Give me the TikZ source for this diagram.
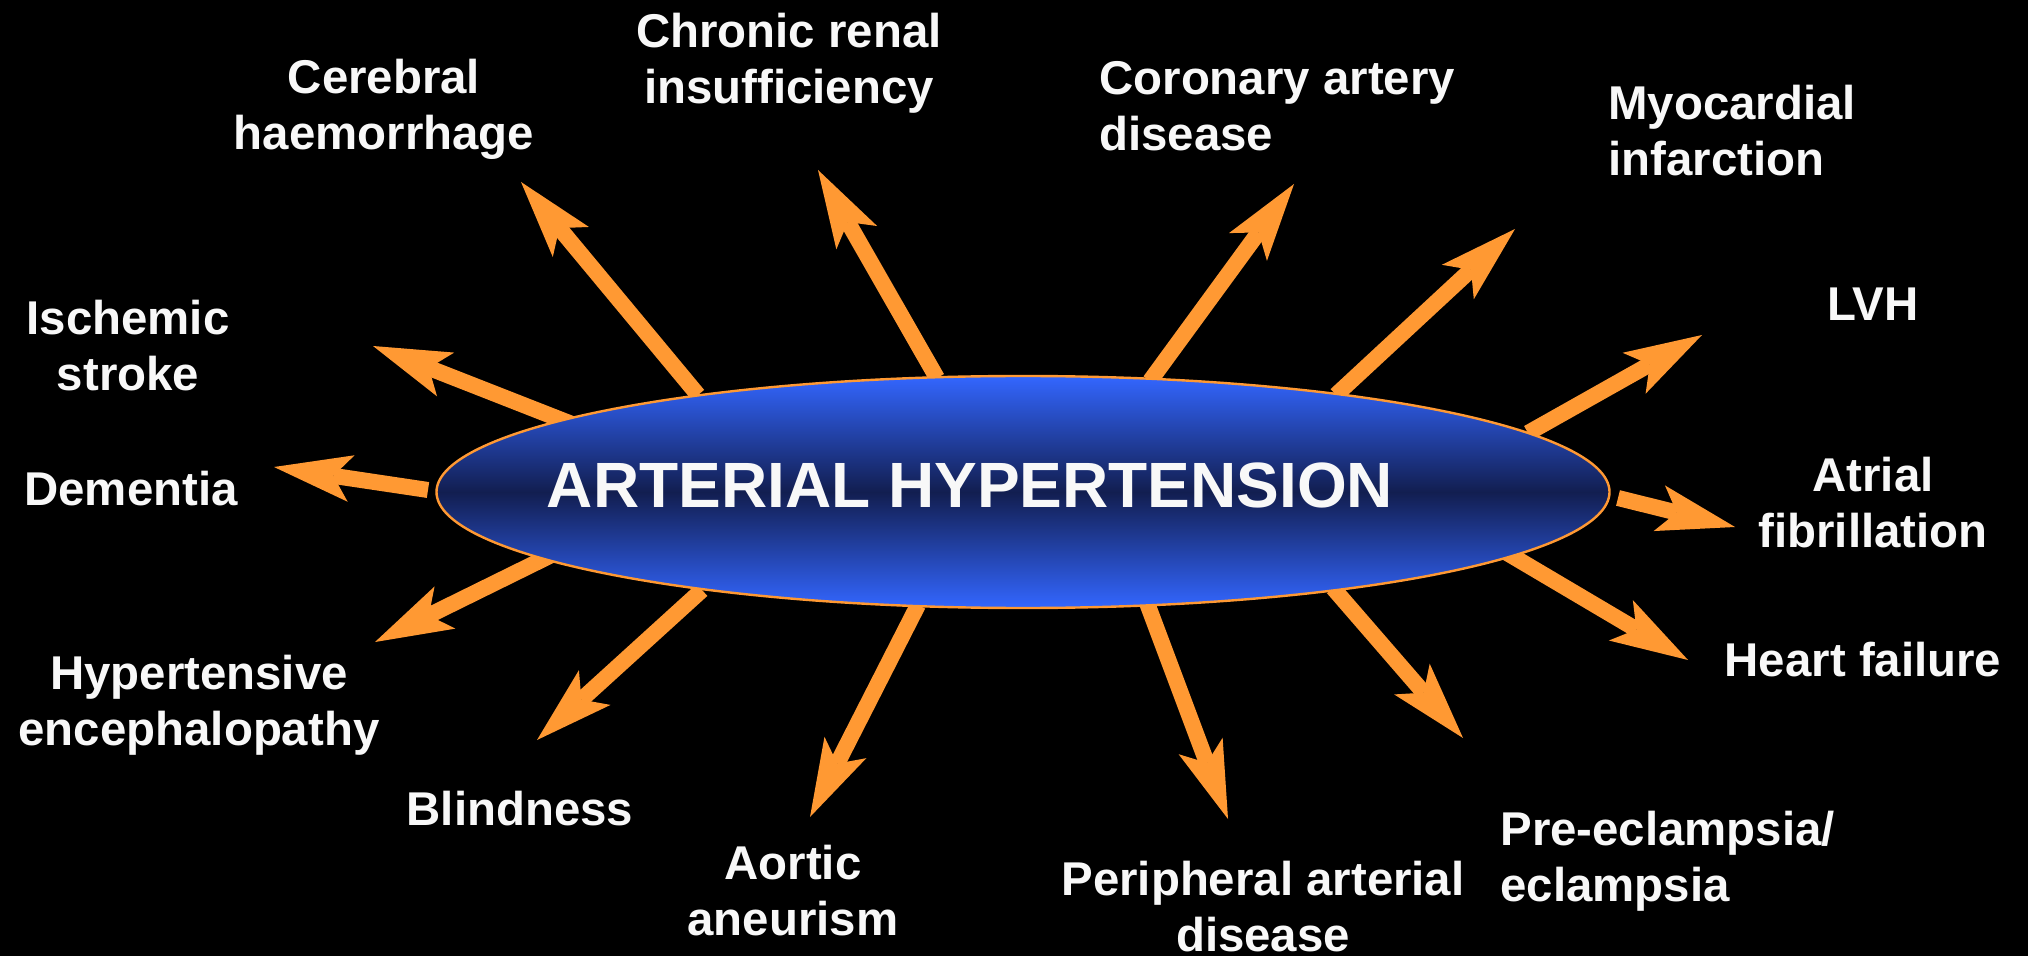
\documentclass[tikz,border=0pt]{standalone}
\usepackage{fontspec}
\setmainfont{Liberation Sans}
\usetikzlibrary{arrows.meta,shapes.geometric}
\definecolor{aorange}{RGB}{255,153,51}
\definecolor{eblue}{RGB}{51,102,255}
\definecolor{enavy}{RGB}{18,30,80}
\definecolor{lwhite}{RGB}{248,248,248}
\tikzset{
  arr/.style={draw=aorange, line width=8pt,
    -{Stealth[length=39pt, width=23.5pt, inset=9pt, line width=0pt]}},
  lbl/.style={text=lwhite, font=\bfseries\fontsize{23.7}{28}\selectfont, inner sep=0pt, align=center},
  lbll/.style={lbl, align=left, anchor=west},
  hyp/.style={ellipse, draw=aorange, line width=1.2pt, minimum width=586.5pt, minimum height=116pt,
    inner sep=0pt, top color=eblue, bottom color=eblue, middle color=enavy},
  title/.style={text=lwhite, font=\bfseries\fontsize{32}{38}\selectfont, inner sep=0pt}
}
\begin{document}
\begin{tikzpicture}[x=0.5pt,y=-0.5pt]
\fill[black] (0,0) rectangle (2028,956);
\useasboundingbox (0,0) rectangle (2028,956);

% arrow end points
\coordinate (t1) at (428,490);  \coordinate (h1) at (274,467);
\coordinate (t2) at (600,435);  \coordinate (h2) at (373,346);
\coordinate (t3) at (698,395);  \coordinate (h3) at (521,182);
\coordinate (t4) at (937,378);  \coordinate (h4) at (818,170);
\coordinate (t5) at (1150,381); \coordinate (h5) at (1294,184);
\coordinate (t6) at (1336,395); \coordinate (h6) at (1515,229);
\coordinate (t7) at (1528,433); \coordinate (h7) at (1702,335);
\coordinate (t8) at (1618,498); \coordinate (h8) at (1735,527);
\coordinate (t9) at (1480,537); \coordinate (h9) at (1688,660);
\coordinate (t10) at (1333,588); \coordinate (h10) at (1463,738);
\coordinate (t11) at (1147,603); \coordinate (h11) at (1228,819);
\coordinate (t12) at (918,605);  \coordinate (h12) at (810,817);
\coordinate (t13) at (702,590);  \coordinate (h13) at (537,740);
\coordinate (t14) at (580,541);  \coordinate (h14) at (375,642);

\foreach \i in {1,...,14} { \draw[arr] (t\i) -- (h\i); }

\node[hyp] (hyp) at (1023,492) {};
\node[title] (ttl) at (970,485) {ARTERIAL HYPERTENSION};

% labels
\node[lbl] (l1) at (131,489) {Dementia};
\node[lbl] (l2) at (128,346) {Ischemic\\stroke};
\node[lbl] (l3) at (384,109) {Cerebral\\haemorrhage};
\node[lbl] (l4) at (789,63) {Chronic renal\\insufficiency};
\node[lbll] (l5) at (1099,106) {Coronary artery\\disease};
\node[lbll] (l6) at (1608,131) {Myocardial\\infarction};
\node[lbl] (l7) at (1873,304) {LVH};
\node[lbl] (l8) at (1873,503) {Atrial\\fibrillation};
\node[lbl] (l9) at (1863,660) {Heart failure};
\node[lbll] (l10) at (1500,861) {Pre-eclampsia/\\eclampsia};
\node[lbl] (l11) at (1263,907) {Peripheral arterial\\disease};
\node[lbl] (l12) at (793,891) {Aortic\\aneurism};
\node[lbl] (l13) at (520,809) {Blindness};
\node[lbl] (l14) at (199,705) {Hypertensive\\encephalopathy};
\end{tikzpicture}
\end{document}
